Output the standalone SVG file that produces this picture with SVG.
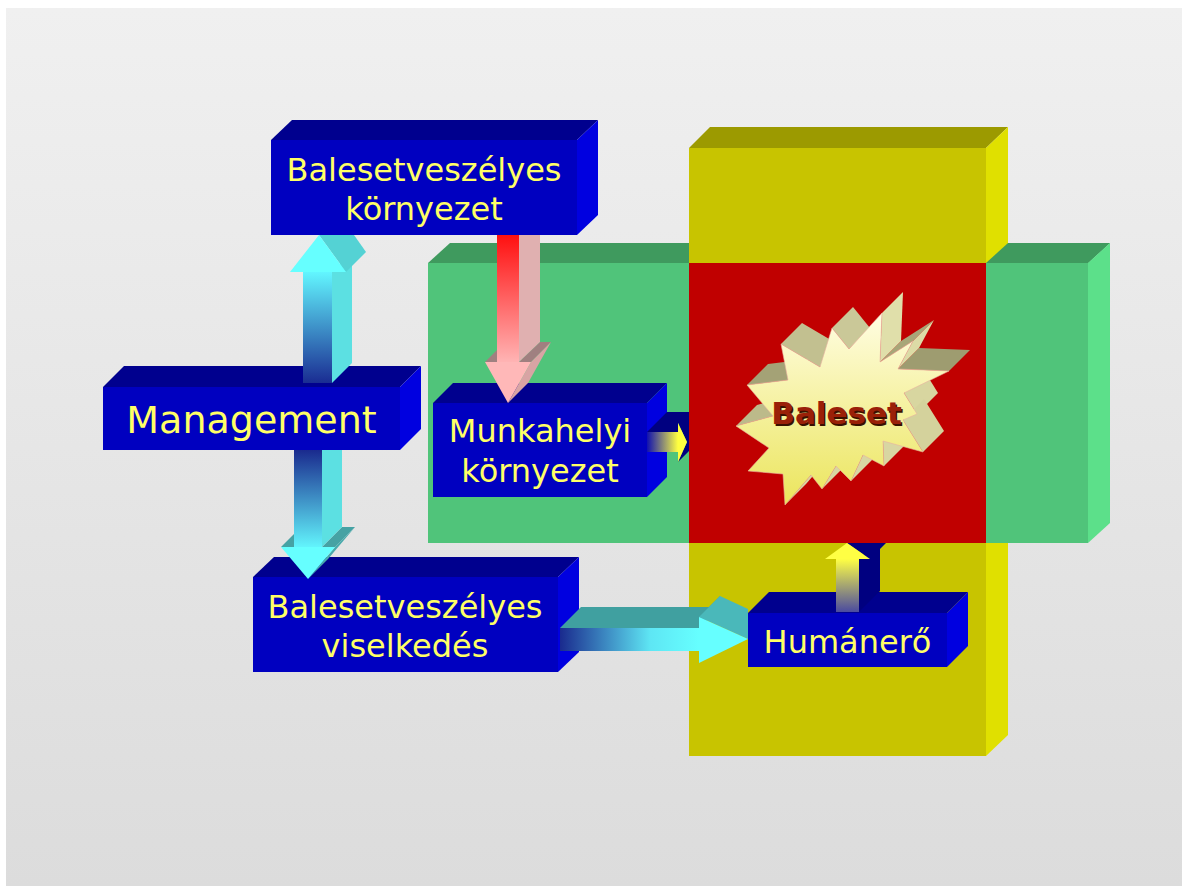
<svg xmlns="http://www.w3.org/2000/svg" width="1182" height="886" viewBox="0 0 1182 886">
  <defs>
    <linearGradient id="bg" x1="0" y1="0" x2="0" y2="1">
      <stop offset="0" stop-color="#f0f0f0"/>
      <stop offset="1" stop-color="#dcdcdc"/>
    </linearGradient>
    <linearGradient id="burst" x1="0" y1="0" x2="0" y2="1">
      <stop offset="0" stop-color="#fffde2"/>
      <stop offset="1" stop-color="#ebe55c"/>
    </linearGradient>
    <linearGradient id="upShaft" gradientUnits="userSpaceOnUse" x1="0" y1="272" x2="0" y2="383">
      <stop offset="0" stop-color="#62f6ff"/>
      <stop offset="1" stop-color="#1a2c92"/>
    </linearGradient>
    <linearGradient id="downShaft" gradientUnits="userSpaceOnUse" x1="0" y1="450" x2="0" y2="547">
      <stop offset="0" stop-color="#1a2a8e"/>
      <stop offset="1" stop-color="#62f4fc"/>
    </linearGradient>
    <linearGradient id="redShaft" gradientUnits="userSpaceOnUse" x1="0" y1="235" x2="0" y2="362">
      <stop offset="0" stop-color="#ff1010"/>
      <stop offset="1" stop-color="#ffb4b4"/>
    </linearGradient>
    <linearGradient id="rightShaft" gradientUnits="userSpaceOnUse" x1="560" y1="0" x2="699" y2="0">
      <stop offset="0" stop-color="#1a2a8e"/>
      <stop offset="0.65" stop-color="#5ee6f4"/>
      <stop offset="1" stop-color="#66ffff"/>
    </linearGradient>
    <linearGradient id="smallShaft" gradientUnits="userSpaceOnUse" x1="647" y1="0" x2="678" y2="0">
      <stop offset="0" stop-color="#1010b0"/>
      <stop offset="1" stop-color="#ffff40"/>
    </linearGradient>
    <linearGradient id="humShaft" gradientUnits="userSpaceOnUse" x1="0" y1="612" x2="0" y2="559">
      <stop offset="0" stop-color="#4a4aa0"/>
      <stop offset="1" stop-color="#ffff44"/>
    </linearGradient>
    <style>
      .front { fill: #0000c0; }
      .top { fill: #00008e; }
      .side { fill: #0000e0; }
      .label { font-family: "DejaVu Sans", Verdana, sans-serif; font-size: 32px; fill: #ffff66; text-anchor: middle; }
    </style>
  </defs>

  <!-- page -->
  <rect x="0" y="0" width="1182" height="886" fill="#ffffff"/>
  <rect x="6" y="8" width="1176" height="878" fill="url(#bg)"/>

  <!-- workplace block: green band crossed by the yellow column, red overlap -->
  <g id="block">
    <polygon points="428,263 450,243 1110,243 1088,263" fill="#3f9a5e"/>
    <polygon points="689,148 710,127 1008,127 986,148" fill="#9c9a00"/>
    <polygon points="986,148 1008,127 1008,735 986,756" fill="#e0e000"/>
    <rect x="689" y="148" width="297" height="608" fill="#c8c400"/>
    <polygon points="986,263 1008,243 1110,243 1088,263" fill="#3f9a5e"/>
    <rect x="428" y="263" width="660" height="280" fill="#50c47a"/>
    <polygon points="1088,263 1110,243 1110,523 1088,543" fill="#5ce08a"/>
    <rect x="689" y="263" width="297" height="280" fill="#c00000"/>
  </g>

  <!-- accident burst -->
  <g id="baleset">
    <polygon points="736,426 773,416 794,395 757,405" fill="#bcba8a"/>
    <polygon points="747,385 788,380 809,359 768,364" fill="#a4a276"/>
    <polygon points="781,344 820,367 841,346 802,323" fill="#c2c090"/>
    <polygon points="832,328 849,349 870,328 853,307" fill="#cac898"/>
    <polygon points="880,362 913,341 934,320 901,341" fill="#a8a678"/>
    <polygon points="882,313 880,362 901,341 903,292" fill="#e0dfaa"/>
    <polygon points="898,369 949,371 970,350 919,348" fill="#9e9c70"/>
    <polygon points="913,341 898,369 919,348 934,320" fill="#dcdba6"/>
    <polygon points="904,393 917,414 938,393 925,372" fill="#d8d6a0"/>
    <polygon points="903,420 923,452 944,431 924,399" fill="#d4d29c"/>
    <polygon points="883,441 884,466 905,445 904,420" fill="#d8d6a2"/>
    <polygon points="863,455 851,481 872,460 884,434" fill="#d8d6a2"/>
    <polygon points="836,466 822,489 843,468 857,445" fill="#d8d6a2"/>
    <polygon points="811,475 785,505 806,484 832,454" fill="#d8d6a2"/>
    <polygon points="781,344 820,367 832,328 849,349 882,313 880,362 913,341 898,369 949,371 904,393 917,414 903,420 923,452 883,441 884,466 863,455 851,481 836,466 822,489 811,475 785,505 783,474 748,471 769,448 736,426 773,416 747,385 788,380" fill="url(#burst)" stroke="#e8b0a0" stroke-width="0.6"/>
    <text x="838" y="426" font-family="'DejaVu Sans', Verdana, sans-serif" font-size="31" font-weight="bold" text-anchor="middle" fill="#3a1000">Baleset</text>
    <text x="836.5" y="424" font-family="'DejaVu Sans', Verdana, sans-serif" font-size="31" font-weight="bold" text-anchor="middle" fill="#9a2008">Baleset</text>
  </g>

  <g id="munkahelyi-kornyezet">
    <polygon class="top" points="433,403 453,383 667,383 647,403"/>
    <polygon class="side" points="647,403 667,383 667,477 647,497"/>
    <rect class="front" x="433" y="403" width="214" height="94"/>
    <text class="label" x="540" y="442">Munkahelyi</text>
    <text class="label" x="540" y="482">környezet</text>
  </g>

  <g id="balesetveszelyes-viselkedes">
    <polygon class="top" points="253,577 274,557 579,557 558,577"/>
    <polygon class="side" points="558,577 579,557 579,652 558,672"/>
    <rect class="front" x="253" y="577" width="305" height="95"/>
    <text class="label" x="405" y="618">Balesetveszélyes</text>
    <text class="label" x="405" y="657">viselkedés</text>
  </g>

  <g id="management">
    <polygon class="top" points="103,387 124,366 421,366 400,387"/>
    <polygon class="side" points="400,387 421,366 421,429 400,450"/>
    <rect class="front" x="103" y="387" width="297" height="63"/>
    <text class="label" x="251.5" y="433" style="font-size:38px">Management</text>
  </g>

  <g id="balesetveszelyes-kornyezet">
    <polygon class="top" points="271,140 292,120 598,120 577,140"/>
    <polygon class="side" points="577,140 598,120 598,215 577,235"/>
    <rect class="front" x="271" y="140" width="306" height="95"/>
    <text class="label" x="424" y="181">Balesetveszélyes</text>
    <text class="label" x="424" y="220">környezet</text>
  </g>

  <g id="humanero">
    <polygon class="top" points="748,613 769,592 968,592 947,613"/>
    <polygon class="side" points="947,613 968,592 968,646 947,667"/>
    <rect class="front" x="748" y="613" width="199" height="54"/>
    <text class="label" x="847.5" y="653">Humánerő</text>
  </g>

  <!-- block arrows between the boxes -->
  <g id="connectors">
    <!-- Management -> Balesetveszélyes környezet -->
    <g id="arrow-management-kornyezet">
      <polygon points="332,383 352,363 352,252 332,272" fill="#5ce0e2"/>
      <polygon points="319,235 346,272 366,252 354,235" fill="#54d2d4"/>
      <rect x="303" y="272" width="29" height="111" fill="url(#upShaft)"/>
      <polygon points="290,272 346,272 319,235" fill="#66ffff"/>
    </g>
    <!-- Management -> Balesetveszélyes viselkedés -->
    <g id="arrow-management-viselkedes">
      <polygon points="281,547 301,527 314,527 294,547" fill="#46a2a4"/>
      <polygon points="322,547 342,527 355,527 335,547" fill="#46a2a4"/>
      <polygon points="335,547 355,527 328,559 308,579" fill="#48aaac"/>
      <polygon points="322,450 342,450 342,527 322,547" fill="#5ce0e2"/>
      <rect x="294" y="450" width="28" height="97" fill="url(#downShaft)"/>
      <polygon points="281,547 335,547 308,579" fill="#66ffff"/>
    </g>
    <!-- Balesetveszélyes környezet -> Munkahelyi környezet -->
    <g id="arrow-kornyezet-munkahelyi">
      <polygon points="485,362 505,342 517,342 497,362" fill="#a08080"/>
      <polygon points="519,362 540,342 551,342 531,362" fill="#a08080"/>
      <polygon points="531,362 551,342 528,383 508,403" fill="#d8a4a4"/>
      <polygon points="519,235 540,235 540,342 519,362" fill="#e0b0b0"/>
      <rect x="497" y="235" width="22" height="127" fill="url(#redShaft)"/>
      <polygon points="485,362 531,362 508,403" fill="#ffb8b8"/>
    </g>
    <!-- Munkahelyi környezet -> Baleset -->
    <g id="arrow-munkahelyi-baleset">
      <polygon points="647,432 667,412 689,412 689,451 678,462 687,442 678,423 678,432" fill="#000080"/>
      <rect x="647" y="432" width="31" height="20" fill="url(#smallShaft)"/>
      <polygon points="678,423 687,442 678,462" fill="#ffff40"/>
    </g>
    <!-- Balesetveszélyes viselkedés -> Humánerő -->
    <g id="arrow-viselkedes-humanero">
      <polygon points="560,628 581,607 720,607 699,628" fill="#40a0a0"/>
      <polygon points="699,628 699,617 720,596 720,607" fill="#40a0a0"/>
      <polygon points="699,617 720,596 748,609 748,639" fill="#4ab8ba"/>
      <rect x="560" y="628" width="139" height="23" fill="url(#rightShaft)"/>
      <polygon points="699,617 748,639 699,663" fill="#66ffff"/>
    </g>
    <!-- Humánerő -> Baleset -->
    <g id="arrow-humanero-baleset">
      <polygon points="859,559 875,543 880,543 880,591 859,612" fill="#000080"/>
      <polygon points="847,543 870,559 886,543" fill="#000080"/>
      <rect x="836" y="559" width="23" height="53" fill="url(#humShaft)"/>
      <polygon points="825,559 870,559 847,543" fill="#ffff44"/>
    </g>
  </g>
</svg>
